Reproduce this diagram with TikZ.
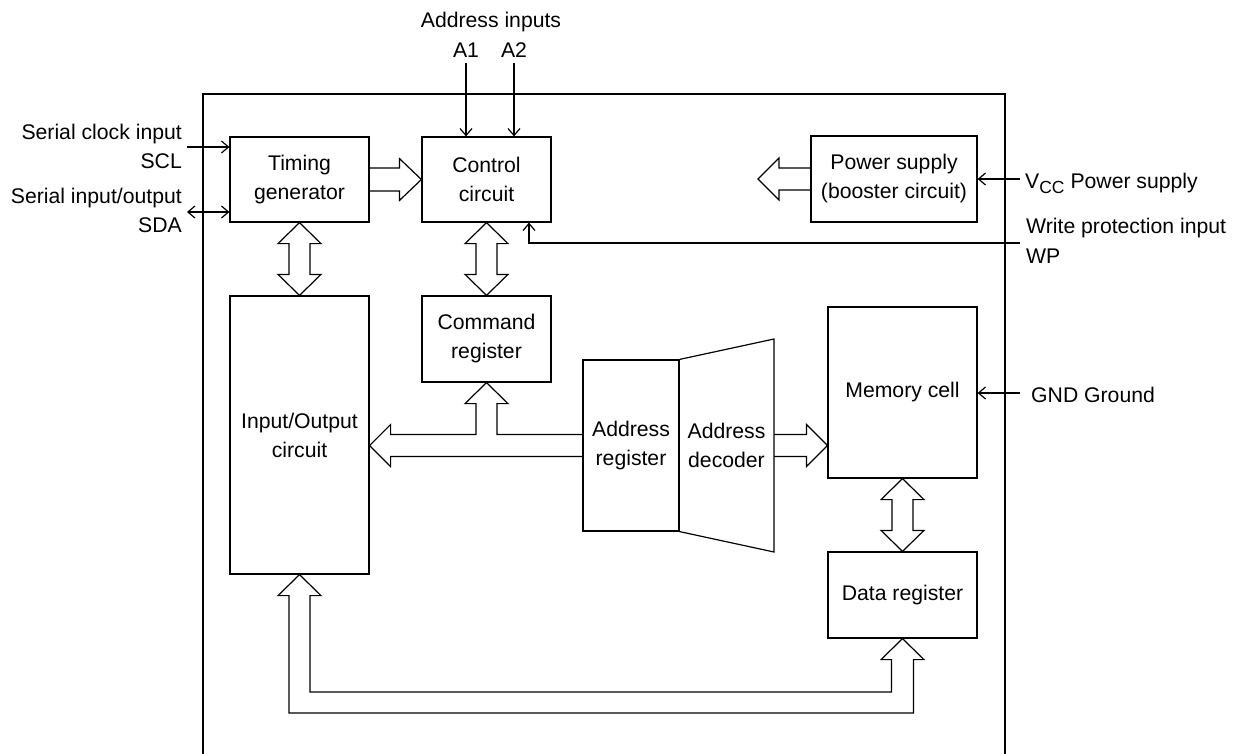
\documentclass[tikz,border=0pt]{standalone}
\usepackage{fontspec}
\setmainfont{Liberation Sans}
\usetikzlibrary{arrows.meta,calc}
\newcommand\vdarr[2]{\draw[blk] let \p1=(#1),\p2=(#2) in (\p1) -- (\x1+21.5pt,\y1-21pt) -- (\x1+10.5pt,\y1-21pt) -- (\x1+10.5pt,\y2+21pt) -- (\x1+21.5pt,\y2+21pt) -- (\x1,\y2) -- (\x1-21.5pt,\y2+21pt) -- (\x1-10.5pt,\y2+21pt) -- (\x1-10.5pt,\y1-21pt) -- (\x1-21.5pt,\y1-21pt) -- cycle;}
\begin{document}
\begin{tikzpicture}[x=1pt,y=-1pt,
  font=\fontsize{21.2}{29}\selectfont,
  box/.style={draw,line width=1.2pt,align=center,inner sep=0pt},
  blk/.style={draw,line width=1.2pt,line join=miter},
  sig/.style={line width=1.2pt,-{Straight Barb[length=7pt,width=12pt]}},
  sig2/.style={line width=1.2pt,{Straight Barb[length=7pt,width=12pt]}-{Straight Barb[length=7pt,width=12pt]}},
  lbl/.style={inner sep=0pt}]
\useasboundingbox (0,0) rectangle (1236,753);
% outer frame
\draw[line width=2.5pt] (203,760) -- (203,94) -- (1005,94) -- (1005,760);
% blocks
\node[box,minimum width=139pt,minimum height=85pt] (tg) at (299.5,179.5) {Timing\\generator};
\node[box,minimum width=129pt,minimum height=85pt] (cc) at (486.5,179.5) {Control\\circuit};
\node[box,minimum width=166pt,minimum height=86pt] (ps) at (894,179) {Power supply\\(booster circuit)};
\node[box,minimum width=129pt,minimum height=86pt] (cr) at (486.5,339) {Command\\register};
\node[box,minimum width=139pt,minimum height=278pt] (io) at (299.5,435) {Input/Output\\circuit};
\node[box,minimum width=96pt,minimum height=171pt] (ar) at (631,445.5) {Address\\register};
\node[lbl,align=center] (ad) at (726.5,445.5) {Address\\decoder};
\coordinate (adtr) at (774,339);
\coordinate (adbr) at (774,552);
\draw[line width=1.2pt] (ar.north east) -- (adtr) -- (adbr) -- (ar.south east);
\node[box,minimum width=149pt,minimum height=171pt] (mc) at (902.5,392.5) {Memory cell};
\node[box,minimum width=149pt,minimum height=86pt] (dr) at (902.5,595) {Data register};
% block arrows
\vdarr{tg.south}{io.north}
\vdarr{cc.south}{cr.north}
\vdarr{mc.south}{dr.north}
\draw[blk] let \p1=(tg.east),\p2=(cc.west) in
  (\x1,\y1+11.5pt) -- (\x2-22pt,\y1+11.5pt) -- (\x2-22pt,\y1+21pt) -- (\x2,\y2) -- (\x2-22pt,\y1-21pt) -- (\x2-22pt,\y1-11.5pt) -- (\x1,\y1-11.5pt);
\coordinate (psa) at (758,179);
\draw[blk] let \p1=(ps.west),\p2=(psa) in
  (\x1,\y1+11pt) -- (\x2+21pt,\y1+11pt) -- (\x2+21pt,\y1+21pt) -- (\p2) -- (\x2+21pt,\y1-21pt) -- (\x2+21pt,\y1-11pt) -- (\x1,\y1-11pt);
\draw[blk] let \p1=(ar.west),\p2=(cr.south),\p3=(io.east) in
  (\x1,\y1+11pt) -- (\x2+10.5pt,\y1+11pt) -- (\x2+10.5pt,\y2-21pt) -- (\x2+21.5pt,\y2-21pt) -- (\p2) -- (\x2-21.5pt,\y2-21pt) -- (\x2-10.5pt,\y2-21pt) -- (\x2-10.5pt,\y1+11pt) -- (\x3+21pt,\y1+11pt) -- (\x3+21pt,\y1+21pt) -- (\x3,\y1) -- (\x3+21pt,\y1-21pt) -- (\x3+21pt,\y1-11pt) -- (\x1,\y1-11pt);
\draw[blk] let \p1=(adtr),\p2=(mc.west),\p3=(ar.east) in
  (\x1,\y3+11pt) -- (\x2-21pt,\y3+11pt) -- (\x2-21pt,\y3+21pt) -- (\x2,\y3) -- (\x2-21pt,\y3-21pt) -- (\x2-21pt,\y3-11pt) -- (\x1,\y3-11pt);
\coordinate (bin) at (0,692);
\coordinate (bout) at (0,713);
\draw[blk] let \p1=(io.south),\p2=(dr.south),\p3=(bin),\p4=(bout) in
  (\p1) -- (\x1+21.5pt,\y1-21pt) -- (\x1+10.5pt,\y1-21pt) -- (\x1+10.5pt,\y3) -- (\x2-11pt,\y3) -- (\x2-11pt,\y2-21pt) -- (\x2-21.5pt,\y2-21pt) -- (\p2) -- (\x2+21.5pt,\y2-21pt) -- (\x2+11pt,\y2-21pt) -- (\x2+11pt,\y4) -- (\x1-10.5pt,\y4) -- (\x1-10.5pt,\y1-21pt) -- (\x1-21.5pt,\y1-21pt) -- cycle;
% signal lines
\coordinate (a1s) at (466,63);
\coordinate (a2s) at (514,63);
\draw[sig] (a1s) -- (a1s |- cc.north);
\draw[sig] (a2s) -- (a2s |- cc.north);
\coordinate (scl) at (187,147);
\draw[sig] (scl) -- (scl -| tg.west);
\coordinate (sda) at (187,212);
\draw[sig2] (sda) -- (sda -| tg.west);
\coordinate (vcc) at (1020,179);
\draw[sig] (vcc) -- (vcc -| ps.east);
\coordinate (wp) at (1020,243);
\coordinate (wpk) at (529,243);
\draw[sig] (wp) -- (wpk) -- (wpk |- cc.south);
\coordinate (gnd) at (1020,393);
\draw[sig] (gnd) -- (gnd -| mc.east);
% labels
\node[lbl,anchor=base] (lai) at (491,27) {Address inputs};
\node[lbl,anchor=base] (la1) at (466,57) {A1};
\node[lbl,anchor=base] (la2) at (514,57) {A2};
\node[lbl,anchor=base east] (lscl1) at (182,139) {Serial clock input};
\node[lbl,anchor=base east] (lscl2) at (182,168) {SCL};
\node[lbl,anchor=base east] (lsda1) at (182,203) {Serial input/output};
\node[lbl,anchor=base east] (lsda2) at (182,232) {SDA};
\node[lbl,anchor=base west] (lvcc) at (1025,188) {V\raisebox{-0.28em}{\fontsize{17.5}{17.5}\selectfont CC} Power supply};
\node[lbl,anchor=base west] (lwp1) at (1026,233) {Write protection input};
\node[lbl,anchor=base west] (lwp2) at (1026,263) {WP};
\node[lbl,anchor=base west] (lgnd) at (1031,402) {GND Ground};
\end{tikzpicture}
\end{document}
